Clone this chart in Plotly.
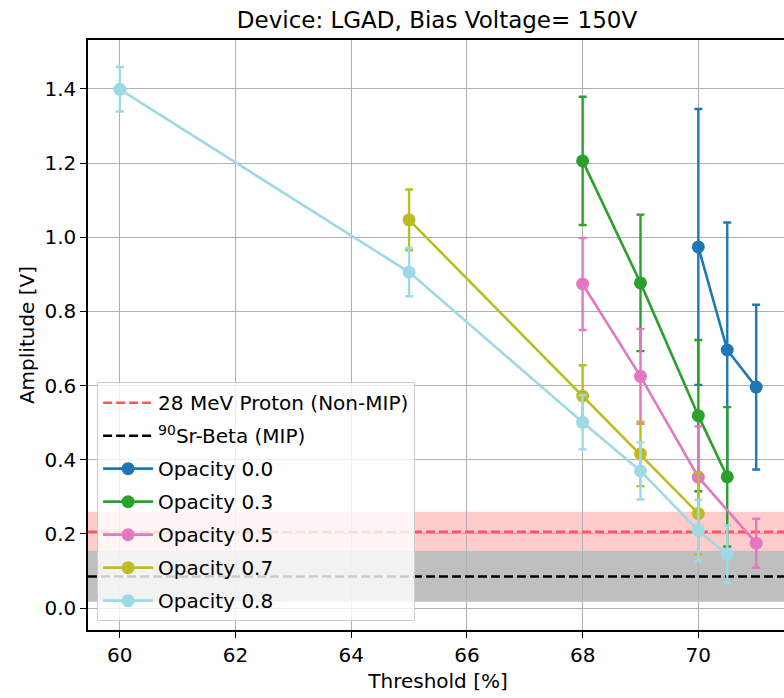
import plotly.graph_objects as go

# ---- data ----
opacity_labels = ["Opacity 0.0", "Opacity 0.3", "Opacity 0.5", "Opacity 0.7", "Opacity 0.8"]
opacity_colors = ["#1f77b4", "#2ca02c", "#e377c2", "#bcbd22", "#9edae5"]

thr_00 = [70, 70.5, 71]
amp_00 = [0.974, 0.696, 0.596]
err_00 = [0.372, 0.344, 0.222]

thr_03 = [68, 69, 70, 70.5]
amp_03 = [1.206, 0.877, 0.519, 0.354]
err_03 = [0.173, 0.184, 0.204, 0.188]

thr_05 = [68, 69, 70, 71]
amp_05 = [0.874, 0.625, 0.353, 0.175]
err_05 = [0.124, 0.128, 0.137, 0.066]

thr_07 = [65, 68, 69, 70]
amp_07 = [1.047, 0.572, 0.416, 0.255]
err_07 = [0.082, 0.083, 0.087, 0.110]

thr_08 = [60, 65, 68, 69, 70, 70.5]
amp_08 = [1.399, 0.906, 0.501, 0.370, 0.209, 0.145]
err_08 = [0.060, 0.065, 0.073, 0.077, 0.083, 0.078]

proton_mean, proton_lo, proton_hi = 0.206, 0.155, 0.260
beta_mean, beta_lo, beta_hi = 0.085, 0.017, 0.155

x_ticks = [60, 62, 64, 66, 68, 70]
y_ticks = [0.0, 0.2, 0.4, 0.6, 0.8, 1.0, 1.2, 1.4]

x_range = [59.45, 71.55]
y_range = [-0.059, 1.532]

series = [
    (thr_00, amp_00, err_00),
    (thr_03, amp_03, err_03),
    (thr_05, amp_05, err_05),
    (thr_07, amp_07, err_07),
    (thr_08, amp_08, err_08),
]

FONT = "DejaVu Sans"
W, H = 788, 698
fig = go.Figure()

# reference lines (legend entries)
fig.add_trace(go.Scatter(
    x=x_range, y=[proton_mean, proton_mean], mode="lines",
    line=dict(color="rgb(255,85,85)", width=2.5, dash="9px,4px"),
    name="28 MeV Proton (Non-MIP)", legendgroup="p", hoverinfo="skip"))
fig.add_trace(go.Scatter(
    x=x_range, y=[beta_mean, beta_mean], mode="lines",
    line=dict(color="black", width=2.5, dash="9px,4px"),
    name="<sup>90</sup>Sr-Beta (MIP)", legendgroup="b", hoverinfo="skip"))

for (xs, ys, es), lab, col in zip(series, opacity_labels, opacity_colors):
    fig.add_trace(go.Scatter(
        x=xs, y=ys, mode="lines+markers", name=lab, legendgroup=lab,
        line=dict(color=col, width=2.6),
        marker=dict(color=col, size=13),
        error_y=dict(type="data", array=es, visible=True, color=col,
                     thickness=2.4, width=4)))

# bands
fig.add_shape(type="rect", xref="paper", x0=0, x1=1, yref="y",
              y0=proton_lo, y1=proton_hi, fillcolor="rgba(255,0,0,0.2)",
              line=dict(width=0), layer="between")
fig.add_shape(type="rect", xref="paper", x0=0, x1=1, yref="y",
              y0=beta_lo, y1=beta_hi, fillcolor="rgba(0,0,0,0.25)",
              line=dict(width=0), layer="between")

fig.update_layout(
    width=W, height=H,
    margin=dict(l=88, r=0, t=40, b=68, autoexpand=False),
    paper_bgcolor="white", plot_bgcolor="white",
    font=dict(family=FONT, size=20, color="black"),
    title=dict(text="Device: LGAD, Bias Voltage= 150V", x=437 / W, xanchor="center",
               y=1 - 20 / H, yanchor="middle", yref="container",
               font=dict(size=23, family=FONT)),
    showlegend=True,
    legend=dict(x=0.013, y=0.015, xanchor="left", yanchor="bottom",
                bgcolor="rgba(255,255,255,0.8)", bordercolor="#cccccc",
                borderwidth=1, font=dict(size=20, family=FONT),
                traceorder="grouped", tracegroupgap=4, itemwidth=50),
)
fig.update_xaxes(range=x_range, tickvals=x_ticks, ticktext=[str(v) for v in x_ticks],
                 automargin=False,
                 showgrid=True, gridcolor="#b0b0b0", gridwidth=1.2,
                 showline=True, linecolor="black", linewidth=1.5, mirror=True,
                 ticks="outside", ticklen=6, tickwidth=1.3, tickcolor="black",
                 zeroline=False,
                 title=dict(text="Threshold [%]", font=dict(size=20), standoff=8))
fig.update_yaxes(range=y_range, tickvals=y_ticks, ticktext=[f"{v:.1f}" for v in y_ticks],
                 automargin=False,
                 showgrid=True, gridcolor="#b0b0b0", gridwidth=1.2,
                 showline=True, linecolor="black", linewidth=1.5, mirror=False,
                 ticks="outside", ticklen=6, tickwidth=1.3, tickcolor="black",
                 zeroline=False,
                 title=dict(text="Amplitude [V]", font=dict(size=20), standoff=4))

fig.write_html("out.html", config={"displayModeBar": False},
               post_script="document.body.style.margin='0';document.body.style.overflow='hidden';")
